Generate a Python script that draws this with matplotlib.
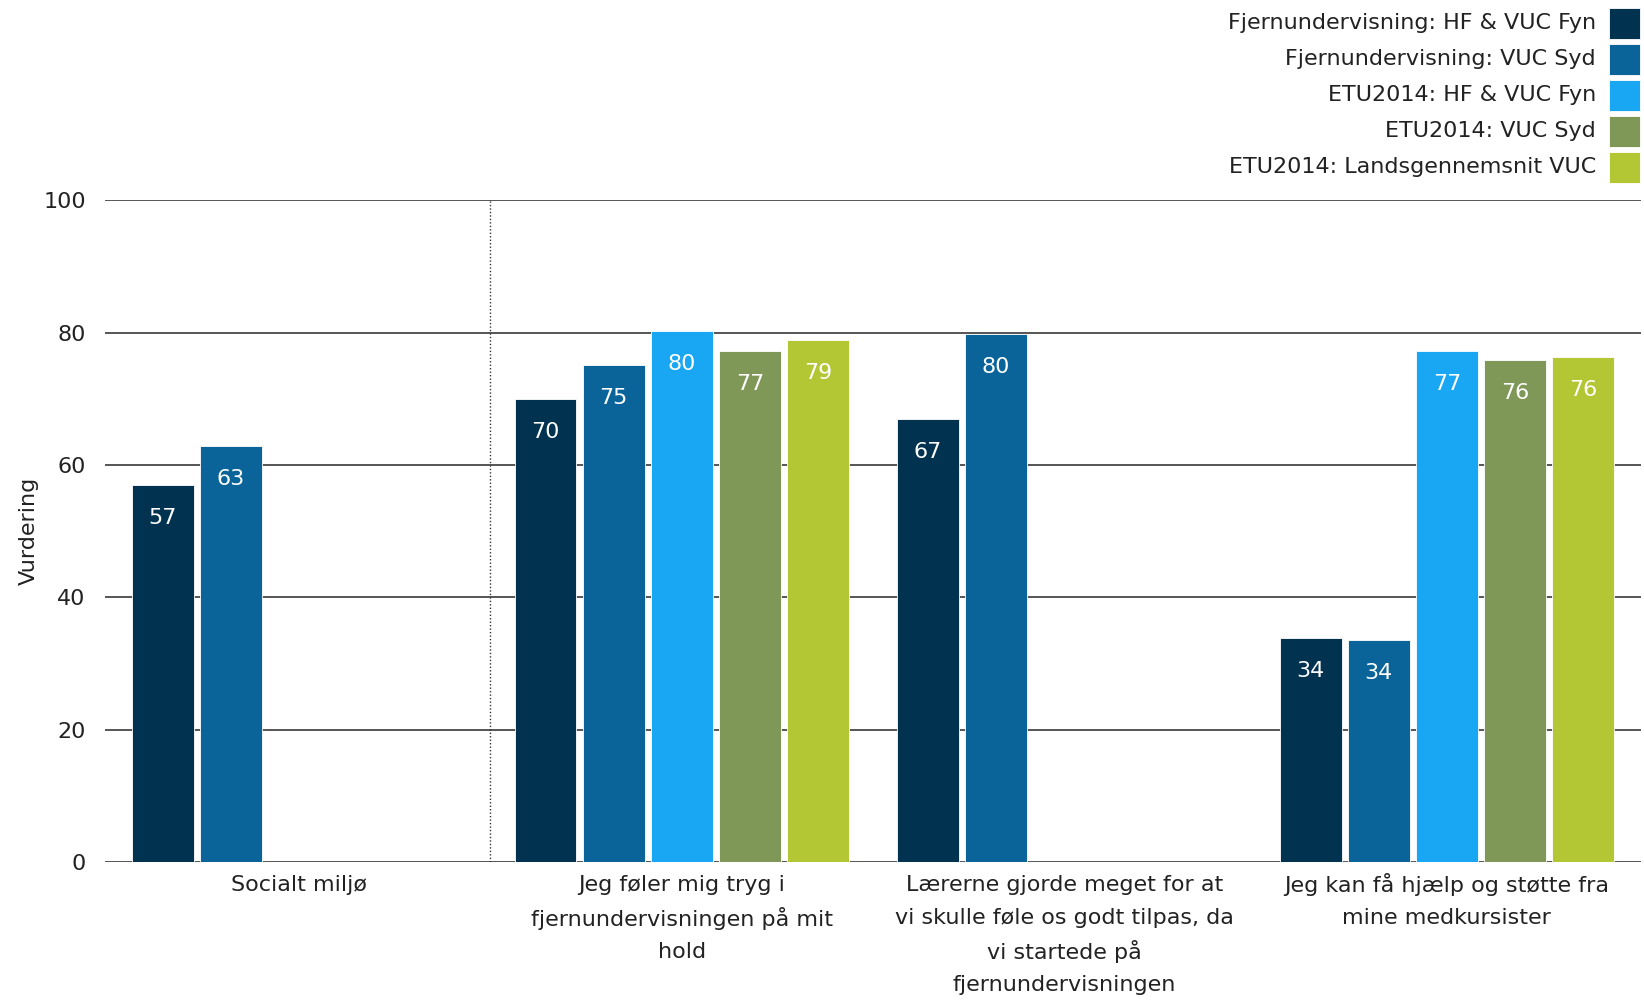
import numpy as np
import matplotlib
matplotlib.use("Agg")
import matplotlib.pyplot as plt
from matplotlib.patches import Rectangle
from matplotlib.transforms import offset_copy

# data
categories = [
    "Socialt miljø",
    "Jeg føler mig tryg i\nfjernundervisningen på mit\nhold",
    "Lærerne gjorde meget for at\nvi skulle føle os godt tilpas, da\nvi startede på\nfjernundervisningen",
    "Jeg kan få hjælp og støtte fra\nmine medkursister",
]
series_names = [
    "Fjernundervisning: HF & VUC Fyn",
    "Fjernundervisning: VUC Syd",
    "ETU2014: HF & VUC Fyn",
    "ETU2014: VUC Syd",
    "ETU2014: Landsgennemsnit VUC",
]
fjern_fyn = [56.9, 69.9, 66.9, 33.9]
fjern_syd = [62.9, 75.1, 79.8, 33.6]
etu_fyn = [np.nan, 80.3, np.nan, 77.2]
etu_syd = [np.nan, 77.2, np.nan, 75.8]
etu_lands = [np.nan, 78.8, np.nan, 76.3]
series = [fjern_fyn, fjern_syd, etu_fyn, etu_syd, etu_lands]
colors = ["#01324f", "#0a6499", "#19a6f3", "#7f9858", "#b3c634"]
yticks = [0, 20, 40, 60, 80, 100]

txt = "#222222"
fs = 16
plt.rcParams["font.family"] = "DejaVu Sans"

W, H = 1644, 1001
fig = plt.figure(figsize=(W / 100, H / 100), dpi=100)
ax = fig.add_axes([0.064, 0.139, 0.934, 0.661])

x = np.arange(len(categories))
pitch = 0.178
width = 0.162
for i, (vals, col, name) in enumerate(zip(series, colors, series_names)):
    pos = x + (i - 2) * pitch
    bars = ax.bar(pos, vals, width, color=col, edgecolor="white", linewidth=0.6,
                  label=name, zorder=3)
    for b, v in zip(bars, vals):
        if np.isnan(v):
            continue
        ax.annotate(f"{v:.0f}", (b.get_x() + b.get_width() / 2, v),
                    xytext=(0, -33), textcoords="offset pixels",
                    ha="center", va="center", color="white", fontsize=fs, zorder=4)

ax.set_xlim(-0.507, 3.507)
ax.set_ylim(0, 100)
ax.set_yticks(yticks)
ax.set_xticks(x)
ax.set_xticklabels([])
ax.tick_params(axis="both", length=0, labelsize=fs, colors=txt)
ax.tick_params(axis="y", pad=14)
for s in ax.spines.values():
    s.set_visible(False)
ax.grid(axis="y", color="#555555", linewidth=1.4, zorder=1)
ax.axvline(0.5, color="#333333", linestyle=(0, (1, 1.5)), linewidth=1.0, zorder=2)
ax.set_ylabel("Vurdering", fontsize=fs, color=txt, labelpad=3)

# category labels, one line at a time for even spacing
xtrans = ax.get_xaxis_transform()
for xi, cat in zip(x, categories):
    for j, line in enumerate(cat.split("\n")):
        tr = offset_copy(xtrans, fig=fig, x=0, y=-(23 + 33.5 * j), units="dots")
        ax.text(xi, 0, line, transform=tr, ha="center", va="center",
                fontsize=fs, color=txt)

# legend: text right-aligned, swatch on the right
for i, (name, col) in enumerate(zip(series_names, colors)):
    yc = 23 + 36 * i
    fig.add_artist(Rectangle(((W - 35) / W, 1 - (yc + 15.5) / H), 31 / W, 31 / H,
                             transform=fig.transFigure, facecolor=col,
                             edgecolor="white", linewidth=0.6))
    fig.text((W - 48) / W, 1 - yc / H, name, ha="right", va="center",
             fontsize=fs, color=txt)

fig.savefig("out.png", dpi=100)
